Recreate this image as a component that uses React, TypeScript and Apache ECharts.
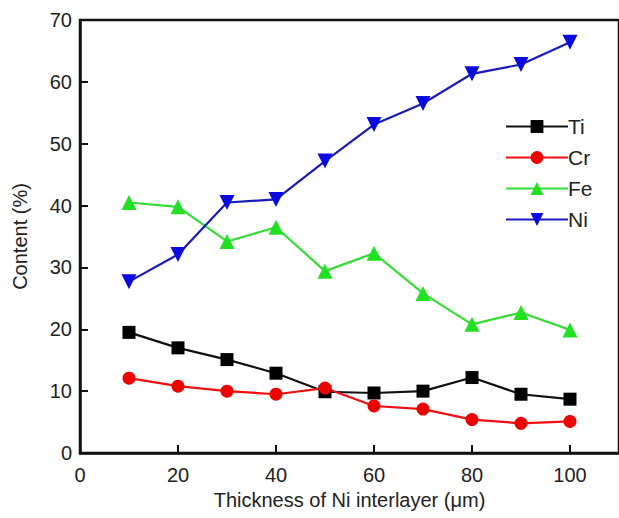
import React, { useEffect, useRef } from "react";
import * as echarts from "echarts";

const thickness = [10, 20, 30, 40, 50, 60, 70, 80, 90, 100];
const ti = [19.5, 17.0, 15.1, 12.9, 9.9, 9.7, 10.0, 12.2, 9.5, 8.7];
const cr = [12.1, 10.8, 10.0, 9.5, 10.5, 7.6, 7.1, 5.4, 4.8, 5.1];
const fe = [40.5, 39.8, 34.2, 36.5, 29.4, 32.3, 25.8, 20.8, 22.7, 19.9];
const ni = [27.7, 32.1, 40.5, 41.0, 47.2, 53.1, 56.5, 61.3, 62.8, 66.4];

const FONT = "Liberation Sans, Arial, sans-serif";

function pts(v: number[]) {
  return thickness.map((x, i) => [x, v[i]]);
}

export default function App() {
  const ref = useRef<HTMLDivElement>(null);
  useEffect(() => {
    if (!ref.current) return;
    const chart = echarts.init(ref.current, null, { renderer: "svg" });
    const mk = (name: string, data: number[], color: string, lineColor: string, symbol: string, size: number, rotate = 0) => ({
      name,
      type: "line",
      data: pts(data),
      symbol,
      symbolSize: size,
      symbolRotate: rotate,
      showAllSymbol: true,
      lineStyle: { color: lineColor, width: 2.2 },
      itemStyle: { color, borderWidth: 0 },
      emphasis: { disabled: true },
    });
    chart.setOption({
      animation: false,
      backgroundColor: "#ffffff",
      textStyle: { fontFamily: FONT },
      grid: {
        left: 80,
        top: 20,
        width: 547,
        bottom: 65,
        show: true,
        borderColor: "#111",
        borderWidth: 2.5,
        backgroundColor: "transparent",
      },
      legend: {
        orient: "vertical",
        left: 500,
        top: 111,
        itemWidth: 62,
        itemHeight: 16,
        itemGap: 10,
        textStyle: { fontSize: 21, color: "#222", fontFamily: FONT, padding: [0, 0, 0, -5] },
        data: ["Ti", "Cr", "Fe", "Ni"],
      },
      xAxis: {
        type: "value",
        min: 0,
        max: 110,
        interval: 20,
        name: "Thickness of Ni interlayer (\u03bcm)",
        nameLocation: "middle",
        nameGap: 34,
        nameTextStyle: { fontSize: 20, color: "#222", fontFamily: FONT },
        axisLine: { show: true, lineStyle: { color: "#111", width: 2.5 } },
        axisTick: { show: true, inside: true, length: 8, lineStyle: { color: "#111", width: 2 } },
        axisLabel: { fontSize: 20, color: "#222", margin: 12, fontFamily: FONT, showMaxLabel: false },
        splitLine: { show: false },
      },
      yAxis: {
        type: "value",
        min: 0,
        max: 70,
        interval: 10,
        name: "Content (%)",
        nameLocation: "middle",
        nameGap: 50,
        nameTextStyle: { fontSize: 20, color: "#222", fontFamily: FONT },
        axisLine: { show: true, lineStyle: { color: "#111", width: 2.5 } },
        axisTick: { show: true, inside: true, length: 8, lineStyle: { color: "#111", width: 2 } },
        axisLabel: { fontSize: 20, color: "#222", margin: 8, fontFamily: FONT },
        splitLine: { show: false },
      },
      series: [
        mk("Ti", ti, "#000000", "#111111", "rect", 13),
        mk("Cr", cr, "#ee0000", "#ee1010", "circle", 13),
        mk("Fe", fe, "#22e022", "#33dd33", "triangle", 15),
        mk("Ni", ni, "#0a0ae0", "#1a1ab8", "triangle", 15, 180),
      ],
    });
    return () => chart.dispose();
  }, []);
  return (
    <div
      ref={ref}
      style={{ position: "fixed", left: 0, top: 0, width: 619, height: 518, background: "#fff" }}
    />
  );
}
